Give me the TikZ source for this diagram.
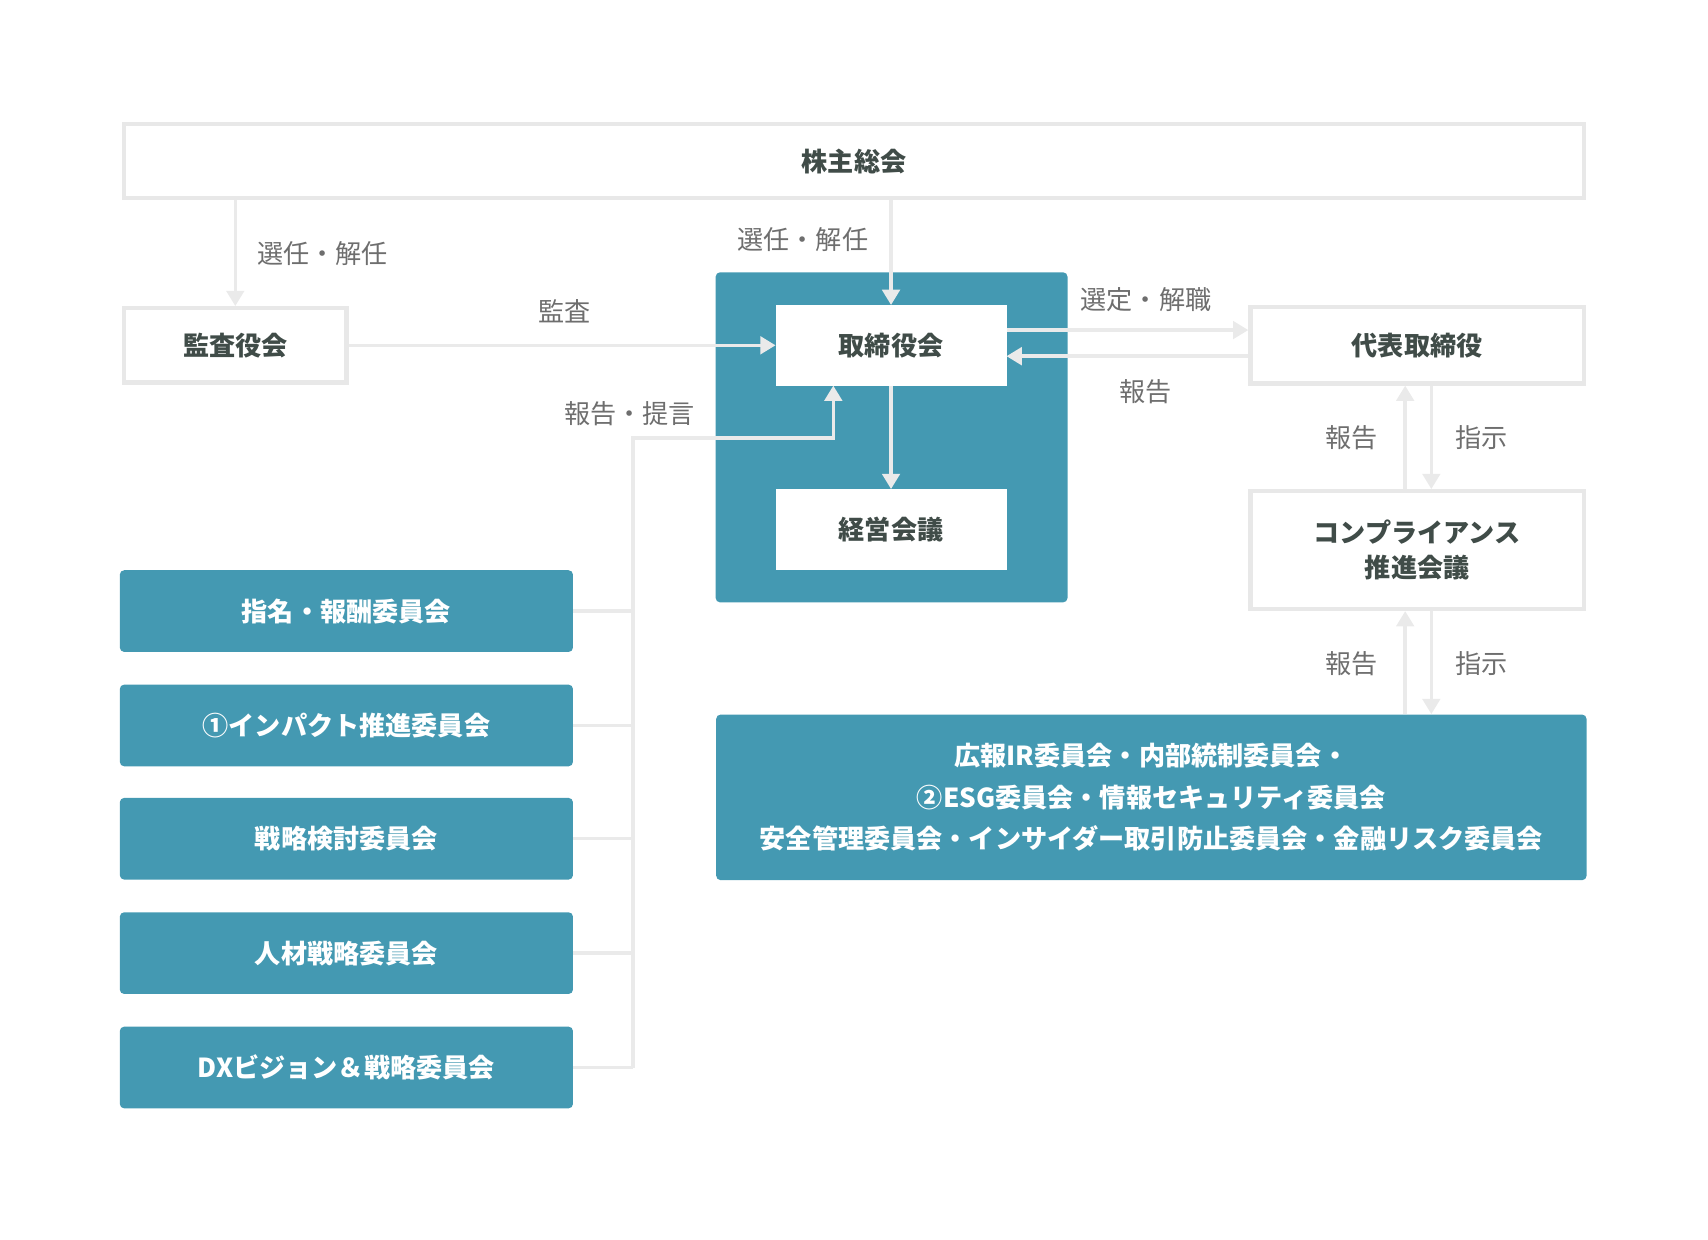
\documentclass[tikz,border=0pt]{standalone}
\usepackage{fontspec}
\setmainfont{Noto Sans CJK JP}
\usetikzlibrary{arrows.meta}
\definecolor{teal}{RGB}{68,153,178}
\definecolor{bord}{RGB}{232,232,232}
\definecolor{ln}{RGB}{234,234,234}
\definecolor{dk}{RGB}{64,76,72}
\definecolor{lb}{RGB}{110,110,110}
\begin{document}
\begin{tikzpicture}[x=0.5pt,y=-0.5pt,
 wbox/.style={draw=bord,line width=2pt,fill=white,font=\bfseries\fontsize{12}{16}\selectfont,text=dk,align=center,inner sep=0pt},
 tbox/.style={fill=teal,rounded corners=2pt,font=\bfseries\fontsize{12}{19}\selectfont,text=white,align=center,inner sep=0pt},
 ar/.style={draw=ln,line width=1.6pt,-{Triangle[length=7pt,width=8pt]}},
 ln/.style={draw=ln,line width=1.6pt},
 lab/.style={font=\fontsize{12}{14}\selectfont,text=lb}]
\useasboundingbox (0,0) rectangle (1568,1138);
\fill[teal,rounded corners=2pt] (657,250) rectangle (980,553);
\node[wbox,minimum width=670pt,minimum height=34pt] (gm) at (784,148) {株主総会};
\node[wbox,minimum width=102pt,minimum height=34pt] (kan) at (216,317) {監査役会};
\node[wbox,draw=white,minimum width=104pt,minimum height=35pt] (tori) at (818,317) {取締役会};
\node[wbox,draw=white,minimum width=104pt,minimum height=35pt] (kei) at (818,486) {経営会議};
\node[wbox,minimum width=153pt,minimum height=35pt] (dai) at (1301,317) {代表取締役};
\node[wbox,minimum width=153pt,minimum height=54pt] (comp) at (1301,505) {コンプライアンス\\推進会議};
\node[tbox,minimum width=399.5pt,minimum height=76pt] (bot) at (1057,732) {広報IR委員会・内部統制委員会・\\②ESG委員会・情報セキュリティ委員会\\安全管理委員会・インサイダー取引防止委員会・金融リスク委員会};
\foreach \n/\y/\t in {a/561/指名・報酬委員会,b/666/①インパクト推進委員会,c/770/戦略検討委員会,d/875/人材戦略委員会,e/980/DXビジョン＆戦略委員会}
  \node[tbox,minimum width=208pt,minimum height=37.5pt] (\n) at (318,\y) {\t};
% arrows
\draw[ar] (gm.south-|216,0) -- (kan.north);
\node[lab] at (296,233) {選任・解任};
\draw[ar] (gm.south-|818,0) -- (tori.north);
\node[lab] at (737,220) {選任・解任};
\draw[ar] (kan.east) -- (tori.west);
\node[lab] at (518,286) {監査};
\draw[ar] (tori.east|-0,303) -- (dai.west|-0,303);
\node[lab] at (1052,275) {選定・解職};
\draw[ar] (dai.west|-0,327) -- (tori.east|-0,327);
\node[lab] at (1052,360) {報告};
\draw[ar] (tori.south) -- (kei.north);
\draw[ar] (comp.north-|1290,0) -- (dai.south-|1290,0);
\draw[ar] (dai.south-|1314,0) -- (comp.north-|1314,0);
\node[lab] at (1241,402) {報告};
\node[lab] at (1360,402) {指示};
\draw[ar] (bot.north-|1290,0) -- (comp.south-|1290,0);
\draw[ar] (comp.south-|1314,0) -- (bot.north-|1314,0);
\node[lab] at (1241,609) {報告};
\node[lab] at (1360,609) {指示};
\coordinate (c1) at (581,402);
\coordinate (c2) at (765,402);
\draw[ar] (581,980) -- (c1) -- (c2) -- (tori.south-|765,0);
\foreach \n in {a,b,c,d,e} \draw[ln] (\n.east) -- (\n.east-|c1);
\node[lab] at (578,380) {報告・提言};
\end{tikzpicture}
\end{document}
